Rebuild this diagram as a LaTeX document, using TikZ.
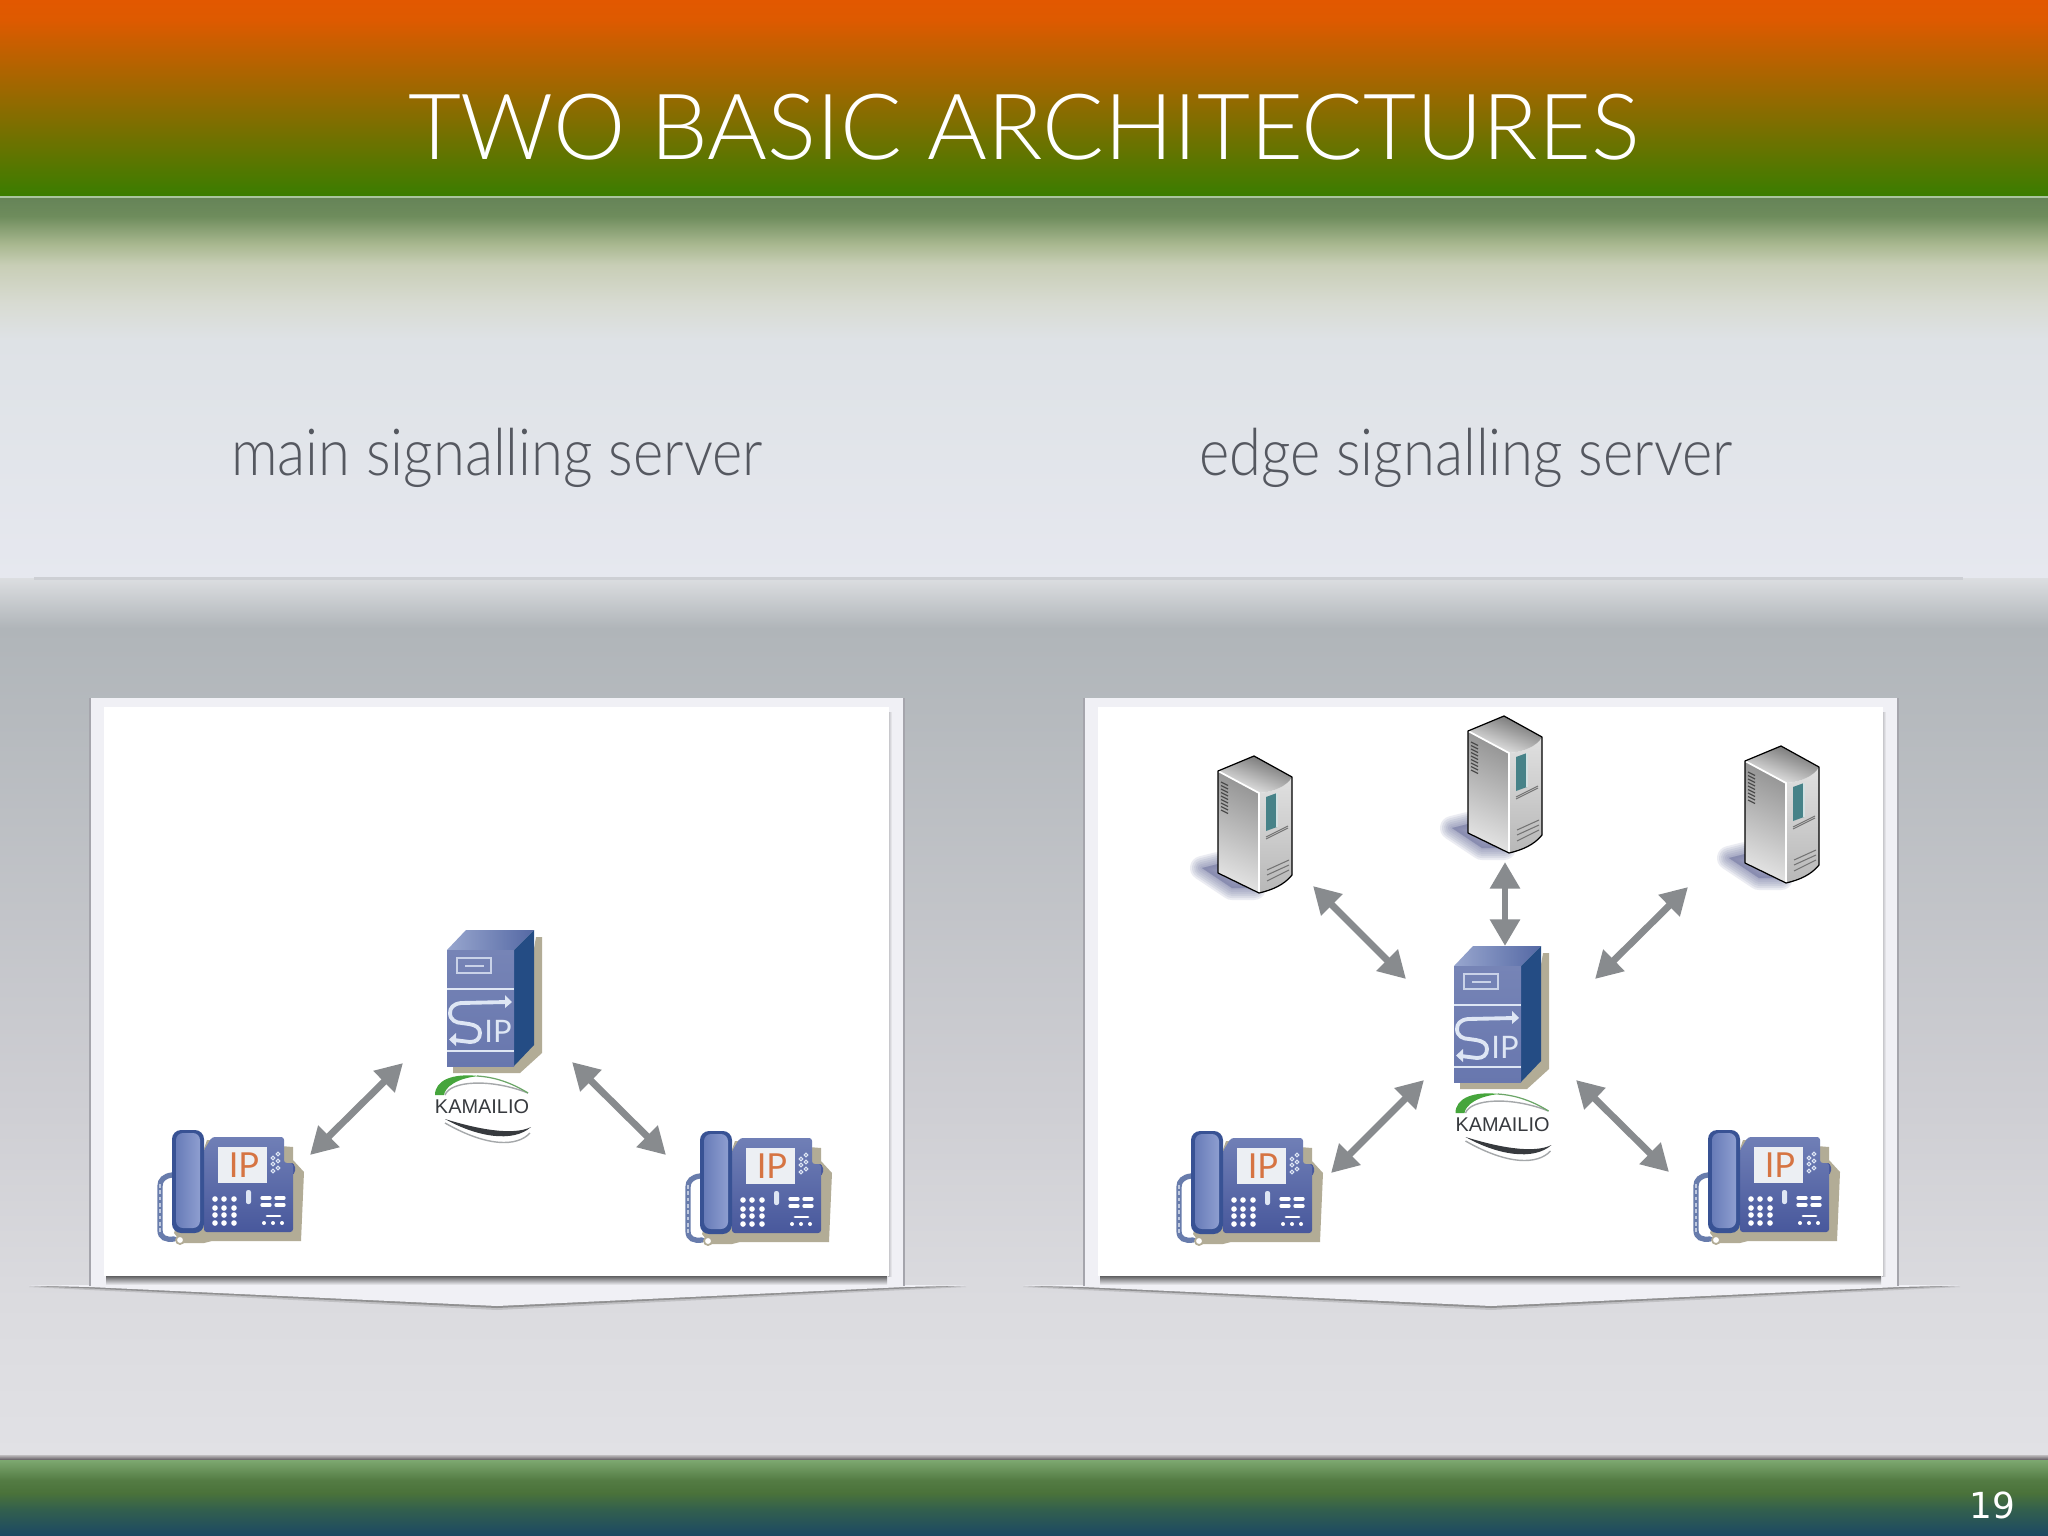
\documentclass[tikz,border=0pt]{standalone}
\usepackage{fontspec}
\usetikzlibrary{arrows.meta}
\setmainfont{Liberation Sans}
\newfontfamily\gillfont{Lato Light}
\newfontfamily\gillnarrow{Lato Light}[FakeStretch=0.89]
\newfontfamily\iconfont{Lato}
\newfontfamily\numfont{DejaVu Sans}
\newcommand{\pxf}[2]{\fontsize{#1}{#2}\selectfont}
\definecolor{hA}{RGB}{226,88,0}
\definecolor{hB}{RGB}{222,90,0}
\definecolor{hC}{RGB}{58,125,0}
\definecolor{hLine}{RGB}{170,196,160}
\definecolor{bA}{RGB}{102,132,88}
\definecolor{bB}{RGB}{110,140,92}
\definecolor{bC}{RGB}{170,185,145}
\definecolor{bD}{RGB}{200,206,182}
\definecolor{bE}{RGB}{216,219,210}
\definecolor{bF}{RGB}{222,226,230}
\definecolor{bG}{RGB}{230,232,239}
\definecolor{cA}{RGB}{220,222,225}
\definecolor{cB}{RGB}{176,181,185}
\definecolor{cC}{RGB}{206,206,211}
\definecolor{cD}{RGB}{219,219,223}
\definecolor{cE}{RGB}{225,225,229}
\definecolor{fA}{RGB}{190,188,190}
\definecolor{fB}{RGB}{92,86,92}
\definecolor{fC}{RGB}{125,168,112}
\definecolor{fD}{RGB}{84,124,68}
\definecolor{fE}{RGB}{74,114,58}
\definecolor{fF}{RGB}{50,95,78}
\definecolor{fG}{RGB}{28,72,100}
\definecolor{ruleC}{RGB}{205,207,212}
\definecolor{subC}{RGB}{85,88,96}
\definecolor{panelC}{RGB}{240,240,245}
\definecolor{panelEdge}{RGB}{165,165,172}
\definecolor{arrowC}{RGB}{136,139,142}
\definecolor{tanC}{RGB}{178,172,150}
\definecolor{frontA}{RGB}{118,132,182}
\definecolor{frontB}{RGB}{104,119,174}
\definecolor{sideC}{RGB}{36,76,132}
\definecolor{topA}{RGB}{152,166,206}
\definecolor{topB}{RGB}{84,104,164}
\definecolor{glyphC}{RGB}{222,230,244}
\definecolor{kamGreen}{RGB}{70,165,60}
\definecolor{kamDark}{RGB}{55,58,62}
\definecolor{kamGray}{RGB}{165,168,170}
\definecolor{bodyA}{RGB}{112,127,182}
\definecolor{bodyB}{RGB}{72,88,156}
\definecolor{handOut}{RGB}{56,82,148}
\definecolor{handA}{RGB}{104,124,184}
\definecolor{handB}{RGB}{142,158,208}
\definecolor{screenC}{RGB}{236,239,243}
\definecolor{ipOrange}{RGB}{214,116,66}
\definecolor{cordC}{RGB}{104,124,172}
\definecolor{cordL}{RGB}{190,200,222}
\definecolor{boxShadow}{RGB}{118,123,164}
\definecolor{tealC}{RGB}{70,130,136}
\tikzset{
  dblarrow/.style={arrowC,line width=1.95pt,{Triangle[width=8.2pt,length=7.6pt]}-{Triangle[width=8.2pt,length=7.6pt]}},
  sipserver/.pic={
    \fill[tanC] (89,-13)--(95,-13)--(95,103)--(73,123)--(6,123)--(6,116)--(67,116)--cycle;
    \shade[left color=topA,right color=topB] (0,0)--(19,-20)--(87,-20)--(67,0)--cycle;
    \fill[sideC] (67,0)--(87,-20)--(87,95)--(67,116)--cycle;
    \shade[top color=frontA,bottom color=frontB] (0,0) rectangle (67,116);
    \draw[glyphC!80!frontA,line width=0.6pt] (10,8) rectangle (44,23);
    \draw[glyphC!80!frontA,line width=0.6pt] (18,16)--(37,16);
    \draw[glyphC,line width=0.6pt] (0,39)--(67,39);
    \draw[glyphC,line width=0.6pt] (0,101)--(67,101);
    \draw[glyphC,line width=1.1pt] (60,52)--(14,53) .. controls (6,54) and (3,58) .. (3,63) .. controls (3,70) and (9,73) .. (15,73) -- (22,74) .. controls (29,75) and (33,78) .. (33,83) .. controls (33,89) and (29,92) .. (23,92) -- (7,90);
    \fill[glyphC] (58,45)--(65,52)--(58,58)--cycle;
    \fill[glyphC] (9,83)--(2,89.5)--(9,96)--cycle;
    \node[glyphC,inner sep=0pt,font=\iconfont\pxf{8.8pt}{9pt}] (-ip) at (51,81) {IP};
  },
  kamlogo/.pic={
    \begin{scope}[shift={(-35,-157)}]
    \fill[kamGreen] (-12,145) .. controls (-12,130) and (6,123) .. (32,126) .. controls (10,128) and (-2,137) .. (-3,145) -- cycle;
    \draw[kamGray,line width=0.4pt] (-2,145) .. controls (3,131) and (43,128) .. (81,143);
    \draw[kamGreen!60!kamGray,line width=0.35pt] (30,126) .. controls (48,127) and (65,133) .. (81,143);
    \fill[kamDark] (-2,169) .. controls (30,187) and (66,193) .. (84,177) .. controls (66,186) and (30,179) .. (-2,169) -- cycle;
    \draw[kamGray,line width=0.4pt] (-2,173) .. controls (40,197) and (70,197) .. (83,183);
    \end{scope}
    \node[kamDark,inner sep=0pt,font=\pxf{5.66pt}{6pt}] (-kam) at (0,0) {KAMAILIO};
  },
  deskphone/.pic={
    \fill[tanC] (35,10)--(121,17)--(121,30)--(132,42)--(129,111)--(40,111)--(32,113)--(10,113)--(2,103)--cycle;
    \draw[cordC,line width=1.5pt,line cap=round] (0,45) .. controls (-8,46) and (-12,50) .. (-12,56) -- (-12,100) .. controls (-12,108) and (-6,110) .. (2,109);
    \draw[cordL,line width=0.6pt,dash pattern=on 1pt off 0.8pt] (-12,54)--(-12,102);
    \fill[white,draw=tanC,line width=0.5pt] (8,110) circle (4);
    \fill[bodyB,rounded corners=1.2pt] (117,33) rectangle (123,45);
    \shade[top color=bodyA,bottom color=bodyB,rounded corners=0.8pt] (40,7)--(112,7)--(112,33)--(121,33)--(121,102)--(32,102)--(32,20)--cycle;
    \fill[screenC] (46,17) rectangle (95,53);
    \node[ipOrange,inner sep=0pt,font=\iconfont\pxf{9.8pt}{10pt}] (-ip) at (72,35) {IP};
    \foreach \cx/\cy in {101/28,106/24,101/34,106/31,101/41,106/38}
      \draw[glyphC,line width=0.3pt] (\cx,\cy) circle (1.9);
    \fill[glyphC,rounded corners=0.6pt] (74,60) rectangle (79,74);
    \foreach \cx in {43,52,62} \foreach \cy in {69,78,85,93}
      \fill[white] (\cx,\cy) circle (2.8);
    \foreach \bx/\by in {90/68,104/68,90/75,104/75}
      \draw[white,line width=0.95pt,line cap=round] (\bx,\by)--++(8,0);
    \draw[white,line width=0.8pt,line cap=round] (95,86)--(108,86);
    \foreach \cx in {92,101,110} \fill[white] (\cx,93) circle (2);
    \fill[handOut,rounded corners=2.6pt] (0,0) rectangle (32,103);
    \shade[left color=handA,right color=handB,rounded corners=2pt] (4,3) rectangle (28,98);
  },
  towerbox/.pic={
    \foreach \w in {24,20,16,12,8,4}
      \filldraw[boxShadow,opacity=.14,line join=round,line width=\w*0.2845pt] (-52,112)--(-36,108)--(0,132)--(-22,132)--cycle;
    \shade[top color=black!42,bottom color=black!11,shading angle=-25] (-36,15)--(5,37)--(5,137)--(-36,117)--cycle;
    \shade[top color=black!12,bottom color=black!28] (5,37) .. controls (20,36) and (33,30) .. (38,21) -- (38,119) .. controls (30,129) and (18,134) .. (5,137) -- cycle;
    \shade[top color=black!58,bottom color=black!5,shading angle=-20] (0,0)--(38,21) .. controls (33,30) and (20,36) .. (5,37) -- (-36,15) -- cycle;
    \draw[white,line width=0.5pt] (-36,15)--(5,37)--(5,137);
    \draw[black,line width=0.35pt,line join=round] (0,0)--(38,21)--(38,119) .. controls (30,129) and (18,134) .. (5,137) -- (-36,117)--(-36,15)--cycle;
    \foreach \vy in {26,29.5,...,57}
      \draw[black!70,line width=0.35pt] (-33,\vy)--(-26,\vy+3.5);
    \fill[tealC] (12,41)--(23,37)--(23,71)--(12,75)--cycle;
    \draw[white!75!tealC,line width=0.3pt] (23,37)--(23,71);
    \draw[black!55,line width=0.3pt] (12,81)--(34,70);
    \draw[black!55,line width=0.3pt] (12,83)--(34,72);
    \draw[black!55,line width=0.3pt] (13,114)--(35,104);
    \draw[black!55,line width=0.3pt] (13,119)--(35,109);
    \draw[black!55,line width=0.3pt] (13,125)--(35,114);
  },
  slidepanel/.pic={
    \fill[black!62,opacity=.22] (29,1287)--(90,1290)--(497,1310)--(904,1290)--(966,1287)--(904,1286)--(90,1286)--cycle;
    \fill[black!62,opacity=.5] (29,1286)--(90,1288.5)--(497,1308)--(904,1288.5)--(966,1286)--(904,1286)--(90,1286)--cycle;
    \fill[panelC] (29,1285.5)--(90,1287)--(497,1306)--(904,1287)--(966,1285.5)--(904,1285)--(90,1285)--cycle;
    \fill[panelC] (90,698) rectangle (904,1286);
    \draw[panelEdge,line width=0.3pt] (90,1286)--(90,698);
    \draw[panelEdge,line width=0.3pt] (904,698)--(904,1286);
    \shade[top color=black!60!panelC,bottom color=panelC] (106,1276) rectangle (887,1285);
    \shade[left color=black!22!panelC,right color=panelC] (888,712) rectangle (892,1276);
    \fill[white] (104,707) rectangle (889,1276);
  }
}
\newcommand{\vband}[4]{\shade[top color=#3,bottom color=#4] (0,#1) rectangle (2048,#2);}
\begin{document}
\begin{tikzpicture}[x=0.01cm,y=-0.01cm]
\useasboundingbox (0,0) rectangle (2048,1536);
% header
\vband{0}{20}{hA}{hB}
\vband{20}{196}{hB}{hC}
\fill[hLine] (0,196) rectangle (2048,198);
% upper background
\vband{198}{216}{bA}{bB}
\vband{216}{245}{bB}{bC}
\vband{245}{265}{bC}{bD}
\vband{265}{303}{bD}{bE}
\vband{303}{340}{bE}{bF}
\vband{340}{578}{bF}{bG}
% lower background
\vband{578}{628}{cA}{cB}
\vband{628}{1100}{cB}{cC}
\vband{1100}{1300}{cC}{cD}
\vband{1300}{1455}{cD}{cE}
\vband{1455}{1460}{fA}{fB}
% footer
\vband{1460}{1480}{fC}{fD}
\vband{1480}{1493}{fD}{fE}
\vband{1493}{1510}{fE}{fF}
\vband{1510}{1536}{fF}{fG}
\fill[ruleC] (34,576.5) rectangle (1963,579.5);
% texts
\node[white,inner sep=0pt,anchor=base,font=\gillfont\pxf{26pt}{27pt}] (title) at (1024,159) {TWO BASIC ARCHITECTURES};
\node[subC,inner sep=0pt,anchor=base,font=\gillnarrow\pxf{18.5pt}{19pt}] (subL) at (497,475) {main signalling server};
\node[subC,inner sep=0pt,anchor=base,font=\gillnarrow\pxf{18.5pt}{19pt}] (subR) at (1466,475) {edge signalling server};
\node[white,inner sep=0pt,anchor=base,font=\numfont\pxf{10.2pt}{11pt}] (pageno) at (1992,1518) {19};
% panels
\pic (panelL) at (0,0) {slidepanel};
\pic (panelR) at (994,0) {slidepanel};
% icons
\pic (srvL) at (447,950) {sipserver};
\pic (srvR) at (1454,966) {sipserver};
\pic (kamL) at (482,1107) {kamlogo};
\pic (kamR) at (1502.5,1125) {kamlogo};
\pic (phA) at (172,1130) {deskphone};
\pic (phB) at (700,1131) {deskphone};
\pic (phC) at (1191,1131) {deskphone};
\pic (phD) at (1708,1130) {deskphone};
\pic (boxA) at (1254,756) {towerbox};
\pic (boxB) at (1504,716) {towerbox};
\pic (boxC) at (1781,746) {towerbox};
% connector ends
\coordinate (aPh) at (310,1155);
\coordinate (aSrv) at (403,1063);
\coordinate (bSrv) at (572,1062);
\coordinate (bPh) at (666,1155);
\coordinate (cPh) at (1331,1173);
\coordinate (cSrv) at (1424,1080);
\coordinate (dSrv) at (1576,1080);
\coordinate (dPh) at (1669,1172);
\coordinate (eBox) at (1313,886);
\coordinate (eSrv) at (1406,979);
\coordinate (fBox) at (1505,862);
\coordinate (fSrv) at (1505,946);
\coordinate (gBox) at (1688,887);
\coordinate (gSrv) at (1595,979);
\draw[dblarrow] (aPh)--(aSrv);
\draw[dblarrow] (bSrv)--(bPh);
\draw[dblarrow] (cPh)--(cSrv);
\draw[dblarrow] (dSrv)--(dPh);
\draw[dblarrow] (eBox)--(eSrv);
\draw[dblarrow] (fBox)--(fSrv);
\draw[dblarrow] (gBox)--(gSrv);
\end{tikzpicture}
\end{document}
